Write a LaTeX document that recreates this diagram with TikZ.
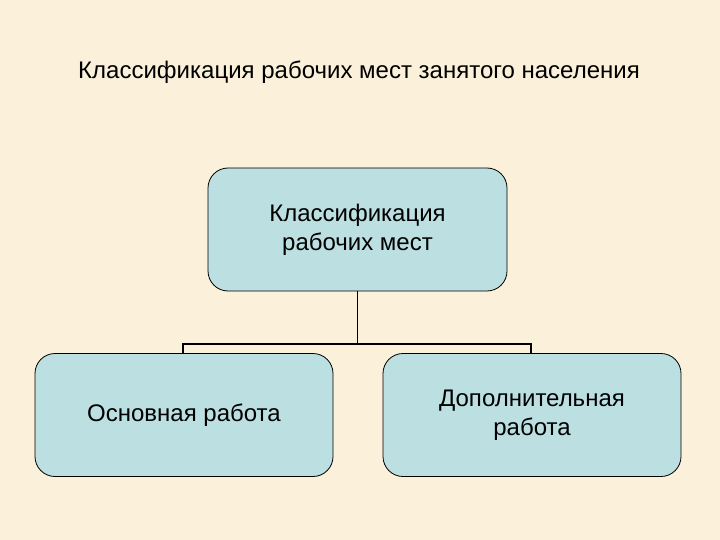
\documentclass[tikz,border=0pt]{standalone}
\usepackage{fontspec}
\setmainfont{Liberation Sans}
\definecolor{bgcream}{HTML}{FBF1DA}
\definecolor{boxblue}{HTML}{BCDFE2}
\tikzset{
  x=1pt,y=-1pt,
  topic/.style={draw=black,line width=0.8pt,fill=boxblue,rounded corners=20pt,minimum width=298pt,minimum height=123pt,align=center,font=\fontsize{24}{29}\selectfont,inner sep=0pt},
  link/.style={draw=black,line width=1.8pt}
}
\begin{document}
\begin{tikzpicture}
\fill[bgcream] (0,0) rectangle (720,540);
\useasboundingbox (0,0) rectangle (720,540);
\node[font=\fontsize{24}{28}\selectfont] (title) at (359,72) {Классификация рабочих мест занятого населения};
\node[topic,minimum width=299pt] (root) at (357.5,229.5) {Классификация\\рабочих мест};
\node[topic] (main) at (184,415) {Основная работа};
\node[topic] (extra) at (532,415) {Дополнительная\\работа};
\coordinate (hub) at (357.5,344);
\coordinate (lt) at (183,344);
\coordinate (rt) at (531,344);
\draw[link] (root.south) -- (hub);
\draw[link] (lt|-main.north) -- (lt) -- (rt) -- (rt|-extra.north);
\end{tikzpicture}
\end{document}
